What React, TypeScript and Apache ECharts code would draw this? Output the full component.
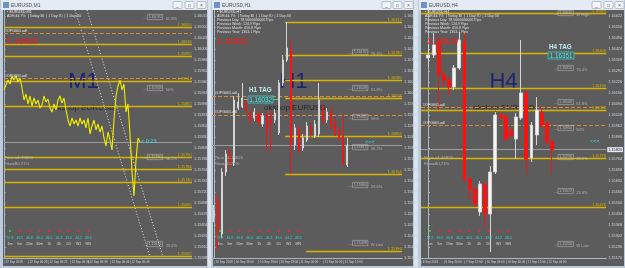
import React, { useEffect, useRef } from "react";
import * as echarts from "echarts";

const FONT = '"Liberation Sans", Arial, sans-serif';

// ---------------- DATA ----------------
// M1 close prices, one point per bar
const m1Close = [
  1.15924, 1.15934, 1.15944, 1.15936, 1.15952, 1.15944, 1.15952, 1.1594, 1.15948, 1.15928,
  1.15904, 1.15916, 1.15896, 1.15912, 1.15892, 1.15908, 1.15896, 1.15904, 1.15888, 1.15894,
  1.15912, 1.159, 1.15906, 1.15888, 1.1588, 1.15896, 1.15884, 1.15904, 1.15912, 1.15898,
  1.15908, 1.15884, 1.15864, 1.15852, 1.15868, 1.15856, 1.15864, 1.15852, 1.15868, 1.15856,
  1.15864, 1.15848, 1.15868, 1.15836, 1.15852, 1.15864, 1.15844, 1.15856, 1.1584, 1.15852,
  1.15828, 1.15812, 1.1584, 1.15824, 1.15804, 1.15864, 1.15912, 1.15932, 1.15944, 1.15924,
  1.15936, 1.1588, 1.15896, 1.15836, 1.1576, 1.15712, 1.15784, 1.15828, 1.1582,
];
const m1TickPos = [0, 12, 22, 33, 42, 53, 63];
const m1TimeLabels = ["12 Sep 2018", "12 Sep 06:23", "12 Sep 06:27", "12 Sep 06:34", "12 Sep 06:39", "12 Sep 06:44", "12 Sep 06:48"];
const m1Levels = [1.1605, 1.16016, 1.15992, 1.15942, 1.15892, 1.1579, 1.15766, 1.1574, 1.1569, 1.15592];
const m1Pivots = [1.16038, 1.15948];
const m1Current = 1.1582;
const m1Channels = [
  [[35.5, 1.16084], [73, 1.1559]],
  [[41.5, 1.16084], [79.5, 1.1559]],
];
const m1FiboX = 69.5;
const m1Fibo: [number, string][] = [[1.1607, "61.8%"], [1.15928, "50%"], [1.1579, "38.2%"], [1.15616, "23.6%"]];

// H1 candles [open, close, low, high]
const h1Ohlc = [
  [1.15532, 1.15556, 1.15512, 1.1558],
  [1.15596, 1.15476, 1.154, 1.1562],
  [1.15464, 1.15712, 1.15448, 1.15728],
  [1.15712, 1.15784, 1.15696, 1.158],
  [1.15784, 1.15744, 1.15728, 1.15808],
  [1.15752, 1.16, 1.15736, 1.16016],
  [1.15968, 1.15992, 1.1596, 1.16028],
  [1.15972, 1.16008, 1.15968, 1.16068],
  [1.16, 1.1596, 1.15948, 1.16012],
  [1.15948, 1.1592, 1.15904, 1.1596],
  [1.15928, 1.15952, 1.15916, 1.15968],
  [1.15944, 1.15912, 1.15896, 1.15956],
  [1.15904, 1.15936, 1.15892, 1.15948],
  [1.1594, 1.1588, 1.158, 1.15952],
  [1.15928, 1.15904, 1.15796, 1.1596],
  [1.1592, 1.15948, 1.15908, 1.15964],
  [1.15868, 1.16068, 1.1586, 1.1608],
  [1.16068, 1.1616, 1.16056, 1.1618],
  [1.1616, 1.16208, 1.16152, 1.16312],
  [1.162, 1.1582, 1.15704, 1.1624],
  [1.1582, 1.15888, 1.158, 1.15904],
  [1.1588, 1.158, 1.15792, 1.15896],
  [1.15808, 1.15848, 1.15796, 1.15864],
  [1.1584, 1.15896, 1.15832, 1.15912],
  [1.15896, 1.15864, 1.15852, 1.15908],
  [1.15856, 1.15904, 1.15848, 1.1592],
  [1.15864, 1.16, 1.15852, 1.16068],
  [1.1596, 1.1592, 1.15904, 1.15984],
  [1.1592, 1.15952, 1.15908, 1.15968],
  [1.15948, 1.15896, 1.1588, 1.15968],
  [1.15908, 1.15864, 1.15856, 1.15928],
  [1.1588, 1.15848, 1.15836, 1.15892],
  [1.15856, 1.15744, 1.15736, 1.1594],
  [1.1574, 1.1582, 1.15732, 1.15848],
];
const h1TickPos = [0, 5, 11, 16, 21, 27, 32];
const h1TimeLabels = ["10 Sep 2018", "10 Sep 13:00", "10 Sep 18:00", "10 Sep 23:00", "11 Sep 04:00", "11 Sep 10:00", "11 Sep 15:00"];
const h1Levels: [number, number][] = [[17.6, 1.16312], [17.6, 1.1618], [17.6, 1.1608], [17.6, 1.16008], [17.6, 1.15856], [17.6, 1.15704], [22.8, 1.15396]];
const h1Pivots = [1.16016, 1.1594];
const h1Current = 1.1582;
const h1FiboX = 33.2;
const h1Fibo: [number, string][] = [[1.16192, "76.4%"], [1.16048, "61.8%"], [1.15932, "50%"], [1.15812, "38.2%"], [1.1566, "23.6%"], [1.15428, "W Low"]];
const h1Tag = "1.16032";

// H4 candles [open, close, low, high]
const h4Ohlc = [
  [1.1637, 1.16388, 1.16316, 1.1646],
  [1.16388, 1.16448, 1.1637, 1.1652],
  [1.1646, 1.16268, 1.16058, 1.16496],
  [1.16268, 1.16238, 1.16202, 1.16286],
  [1.16238, 1.16196, 1.16148, 1.1625],
  [1.16196, 1.1631, 1.16178, 1.16328],
  [1.1631, 1.16478, 1.16298, 1.16526],
  [1.16466, 1.15644, 1.15626, 1.16526],
  [1.15644, 1.15584, 1.15524, 1.15656],
  [1.15584, 1.15494, 1.15476, 1.15602],
  [1.15446, 1.15614, 1.15422, 1.15632],
  [1.15614, 1.15434, 1.15356, 1.15626],
  [1.15434, 1.15686, 1.15206, 1.15722],
  [1.15686, 1.16028, 1.15674, 1.16046],
  [1.16028, 1.1601, 1.15992, 1.16046],
  [1.16016, 1.15884, 1.15872, 1.16034],
  [1.15938, 1.15902, 1.1589, 1.1595],
  [1.15884, 1.16016, 1.15764, 1.1604],
  [1.1601, 1.1616, 1.15998, 1.16478],
  [1.1616, 1.15764, 1.15674, 1.16178],
  [1.1577, 1.15968, 1.15746, 1.15986],
  [1.15908, 1.16058, 1.15848, 1.16136],
  [1.1604, 1.15968, 1.1595, 1.1607],
  [1.1598, 1.15866, 1.15848, 1.15998],
  [1.15866, 1.1582, 1.15674, 1.15884],
];
const h4TickPos = [-1.4, 3, 7, 11, 15, 19, 23];
const h4TimeLabels = ["6 Sep 2018", "6 Sep 20:00", "7 Sep 12:00", "10 Sep 04:00", "10 Sep 20:00", "11 Sep 12:00", "12 Sep 04:00"];
const h4Levels = [1.1664, 1.164, 1.1619, 1.16058, 1.1577, 1.15476];
const h4Pivots = [1.16076, 1.15968];
const h4Current = 1.1582;
const h4FiboX = 24.3;
const h4Fibo: [number, string][] = [[1.1664, "W High"], [1.1631, "76.4%"], [1.16106, "61.8%"], [1.1595, "50%"], [1.15776, "38.2%"], [1.15572, "23.6%"], [1.15254, "W Low"]];
const h4Tag = "1.16351";

const tfNames = ["1m", "5m", "15m", "30m", "1h", "4h", "D1", "W1", "MN"];
const tfValues = ["57.8", "46.9", "46.8", "46.0", "46.5", "46.3", "49.0", "44.2", "48.5"];
const tfUp = [true, false, false, false, false, false, false, false, false];

const headerLines = [
  "ADR:44.7%  | Today:36  | 1 Day:70  | 1 Day:34",
  "Previous Day: 78.5000000000 Pips",
  "Previous Week: 124.9 Pips",
  "Previous Month: 410.8 Pips",
  "Previous Year: 1353.1 Pips",
];

// ---------------- STYLE HELPERS ----------------
const GOLD = "#d8b400";
const AXIS = "#a9b8c8";
const LBL = "#cfd6dd";

const goldLabel = (v: number) => ({
  show: true,
  position: "insideEndTop",
  formatter: v.toFixed(5),
  color: GOLD,
  fontSize: 3.8,
  distance: 0.5,
  fontFamily: FONT,
});
const goldFull = (v: number) => ({
  yAxis: v,
  lineStyle: { color: GOLD, width: 1.4, type: "solid" },
  label: goldLabel(v),
});
const goldPart = (xs: number, v: number, xe: number) => [
  { coord: [xs, v], lineStyle: { color: GOLD, width: 1.4, type: "solid" }, label: goldLabel(v) },
  { coord: [xe, v] },
];
const pivot = (v: number) => ({
  yAxis: v,
  lineStyle: { color: "#d98c2e", width: 1, type: [4, 2] },
  label: { show: false },
});
const current = (v: number, showLabel: boolean) => ({
  yAxis: v,
  lineStyle: { color: "#9c9c9c", width: 1, type: "solid" },
  label: { show: showLabel, position: "end", formatter: v.toFixed(5), color: "#111", backgroundColor: "#e6edf7", fontSize: 3.8, padding: [0.5, 1], distance: 1, fontFamily: FONT },
});
const markLineOf = (data: any[]) => ({
  silent: true,
  symbol: ["none", "none"],
  animation: false,
  precision: 5,
  data,
});

const fibSeries = (idx: number, x: number, fib: [number, string][]) => ({
  type: "scatter",
  xAxisIndex: idx,
  yAxisIndex: idx,
  symbol: "rect",
  symbolSize: 0.5,
  itemStyle: { color: "rgba(0,0,0,0)" },
  z: 6,
  data: fib.map(([p, t]) => ({ value: [x, p], name: t })),
  label: {
    show: true,
    position: "right",
    distance: 0,
    formatter: (p: any) => `{d|—}{b|${p.value[1].toFixed(5)}}{t|${p.name}}`,
    rich: {
      d: { color: "#bdbdbd", fontSize: 4, fontFamily: FONT },
      b: { color: "#cfcfcf", fontSize: 3.6, fontFamily: FONT, borderColor: "#c4c4c4", borderWidth: 0.6, padding: [0.6, 1.2] },
      t: { color: "#c4c4c4", fontSize: 4, fontFamily: FONT, padding: [2, 0, 0, 3] },
    },
  },
});

const xAxisOf = (idx: number, min: number, max: number, ticks: number[], labels: string[]) => ({
  gridIndex: idx,
  type: "value",
  min,
  max,
  axisLine: { show: true, lineStyle: { color: AXIS, width: 1 } },
  axisTick: { show: false },
  splitLine: { show: false },
  axisLabel: {
    customValues: ticks,
    formatter: (v: number) => {
      const k = ticks.findIndex((t) => Math.abs(t - v) < 1e-6);
      return k >= 0 ? "| " + labels[k] : "";
    },
    fontSize: 3,
    color: LBL,
    align: "left",
    margin: 2.5,
    fontFamily: FONT,
  },
});
const yAxisOf = (idx: number, min: number, max: number, interval: number, hideNear: number | null) => ({
  gridIndex: idx,
  type: "value",
  position: "right",
  min,
  max,
  interval,
  axisLine: { show: true, lineStyle: { color: AXIS, width: 1 } },
  axisTick: { show: true, length: 1.5, lineStyle: { color: AXIS } },
  splitLine: { show: false },
  axisLabel: {
    fontSize: 3.8,
    color: LBL,
    margin: 2,
    fontFamily: FONT,
    showMaxLabel: false,
    formatter: (v: number) => (hideNear !== null && Math.abs(v - hideNear) < interval * 0.45 ? "" : v.toFixed(5)),
  },
});

function T(x: number, y: number, text: string, size: number, fill: string, o: any = {}) {
  const align = o.align || "left";
  return {
    type: "text",
    x,
    y,
    z: o.z ?? 60,
    silent: true,
    style: {
      text,
      fill,
      fontSize: size,
      fontFamily: FONT,
      fontWeight: o.weight || "normal",
      textAlign: align,
      align,
      textVerticalAlign: "middle",
      verticalAlign: "middle",
    },
  };
}

const panels = [
  { x0: 0, x1: 208, ix: 3, title: "EURUSD,M1", tf: "M1", btn: [173, 185, 197], bigX: 83.5, wmX: 84, hdr: 1, red: 7, tfX: 10, adl: [31, 76], info: 4 },
  { x0: 211, x1: 414, ix: 213, title: "EURUSD,H1", tf: "H1", btn: [382, 393, 404], bigX: 293.5, wmX: 295, hdr: 5, red: 217, tfX: 220, adl: [93, 112], info: 214 },
  { x0: 418, x1: 625, ix: 421, title: "EURUSD,H4", tf: "H4", btn: [592, 604, 615], bigX: 503.5, wmX: 504, hdr: 5, red: 427, tfX: 430, adl: [105, 123], info: 424 },
];

function buildGraphics() {
  const els: any[] = [];
  els.push({ type: "rect", z: -20, silent: true, shape: { x: 0, y: 0, width: 625, height: 268 }, style: { fill: "#d9e4ef" } });
  panels.forEach((p) => {
    els.push({ type: "rect", z: -15, silent: true, shape: { x: p.x0, y: 0, width: p.x1 - p.x0, height: 268 }, style: { fill: "#bccbdc" } });
    els.push({ type: "rect", z: -14, silent: true, shape: { x: p.ix, y: 10, width: p.x1 - p.ix - 1, height: 256 }, style: { fill: "#5c5c5c" } });
    // title bar (above plot)
    els.push({ type: "rect", z: 70, silent: true, shape: { x: p.x0 + 1, y: 0, width: p.x1 - p.x0 - 2, height: 10 }, style: { fill: "#e4ebf4" } });
    els.push({ type: "rect", z: 71, silent: true, shape: { x: p.x0 + 3, y: 2, width: 6, height: 6 }, style: { fill: "#6f93c4" } });
    els.push({ ...T(p.x0 + 11, 5, p.title, 5, "#4a4a4a"), z: 72 });
    p.btn.forEach((bx, k) => {
      els.push({ type: "rect", z: 71, silent: true, shape: { x: bx, y: 1.5, width: 9, height: 7, r: 1 }, style: { fill: "#f2f5f9", stroke: "#8da0b6", lineWidth: 0.6 } });
      els.push({ ...T(bx + 4.5, 5, ["_", "□", "×"][k], 5, "#556", { align: "center" }), z: 72 });
    });
    // header texts
    els.push(T(p.ix + 4, 11.5, "▪ " + p.title, 3.8, "#e8e8e8"));
    for (let k = 0; k < p.hdr; k++) els.push(T(p.ix + 4, 15.5 + k * 4.2, headerLines[k], 3.6, "#e0e0e0"));
    // red price
    els.push(T(p.red, 41, "1.15820", 8.6, "#ff1a1a"));
    // timeframe big label + watermark (under series)
    els.push(T(p.bigX, 80, p.tf, 22, "#1c2470", { align: "center", z: 1 }));
    els.push(T(p.wmX, 107, "okshop EURUSD", 8, "#272727", { align: "center", z: 1 }));
    // pivot labels
    p.adl.forEach((y) => els.push(T(p.ix + 2, y, "#OPG001.adl", 3.6, "#e8e8e8")));
    // price / fibo info
    els.push(T(p.info, 157, "Price =1.15820", 4.3, "#b4b4b4"));
    els.push(T(p.info, 163, "Fibo=80.71%", 4.3, "#b4b4b4"));
    // multi-timeframe row
    tfNames.forEach((n, k) => {
      const cx = p.tfX + k * 9.8;
      els.push({ type: "circle", z: 60, silent: true, shape: { cx, cy: 231, r: 1.1 }, style: { fill: tfUp[k] ? "#22dd22" : "#ff2020" } });
      els.push(T(cx, 237.5, tfValues[k], 3.4, "#35d6c8", { align: "center" }));
      els.push(T(cx, 244, n, 3.6, "#d8d8d8", { align: "center" }));
    });
  });
  // timers / arrows
  els.push(T(141, 141, "< 0:23", 5.5, "#3fe0e8"));
  els.push(T(365, 141.5, "<<<", 5.5, "#3fe0e8"));
  els.push(T(590, 141, "<<<", 5.5, "#3fe0e8"));
  // H1 TAG
  els.push({ type: "line", z: 60, silent: true, shape: { x1: 244, y1: 99.5, x2: 278, y2: 99.5 }, style: { stroke: "#2ed0d0", lineWidth: 1 } });
  els.push({ type: "rect", z: 61, silent: true, shape: { x: 248, y: 96, width: 25, height: 7 }, style: { fill: "#5c5c5c", stroke: "#2ed0d0", lineWidth: 0.8 } });
  els.push(T(260.5, 99.6, h1Tag, 6.3, "#4aeeee", { align: "center", z: 62 }));
  els.push(T(249, 89, "H1 TAG", 6.3, "#c0eff2", { weight: "bold" }));
  // H4 TAG
  els.push({ type: "rect", z: 61, silent: true, shape: { x: 548, y: 52, width: 26, height: 7 }, style: { fill: "#5c5c5c", stroke: "#2ed0d0", lineWidth: 0.8 } });
  els.push(T(561, 55.6, h4Tag, 6.3, "#4aeeee", { align: "center", z: 62 }));
  els.push(T(549, 46, "H4 TAG", 6.3, "#c0eff2", { weight: "bold" }));
  return els;
}

function buildOption() {
  const candleStyle = { color: "#f4f4f4", color0: "#ff1010", borderColor: "#d4d4d4", borderColor0: "#ff1010", borderWidth: 1 };
  return {
    animation: false,
    grid: [
      { left: 4, top: 8, width: 188, height: 250 },
      { left: 212, top: 8, width: 190, height: 250 },
      { left: 421, top: 8, width: 191, height: 250 },
    ],
    xAxis: [
      xAxisOf(0, 0, 94, m1TickPos, m1TimeLabels),
      xAxisOf(1, -0.5, 46.5, h1TickPos, h1TimeLabels),
      xAxisOf(2, -1.44, 34.5, h4TickPos, h4TimeLabels),
    ],
    yAxis: [
      yAxisOf(0, 1.15588, 1.16088, 0.00022, null),
      yAxisOf(1, 1.15368, 1.16368, 0.00044, null),
      yAxisOf(2, 1.1517, 1.1667, 0.00066, h4Current),
    ],
    graphic: { elements: buildGraphics() },
    series: [
      {
        type: "line",
        xAxisIndex: 0,
        yAxisIndex: 0,
        data: m1Close.map((v, i) => [i, v]),
        symbol: "none",
        z: 5,
        lineStyle: { color: "#f2ee00", width: 1.1 },
        markLine: markLineOf([...m1Levels.map(goldFull), ...m1Pivots.map(pivot), current(m1Current, false)]),
      },
      ...m1Channels.map((seg) => ({
        type: "line",
        xAxisIndex: 0,
        yAxisIndex: 0,
        data: seg,
        symbol: "none",
        z: 4,
        lineStyle: { color: "#e8e8e8", width: 1, type: [1, 2] },
      })),
      fibSeries(0, m1FiboX, m1Fibo),
      {
        type: "candlestick",
        xAxisIndex: 1,
        yAxisIndex: 1,
        data: h1Ohlc.map((d, i) => [i, ...d]),
        encode: { x: 0, y: [1, 2, 3, 4] },
        barWidth: 1.6,
        z: 5,
        itemStyle: candleStyle,
        markLine: markLineOf([...h1Levels.map(([xs, v]) => goldPart(xs, v, 46.5)), ...h1Pivots.map(pivot), current(h1Current, false)]),
      },
      fibSeries(1, h1FiboX, h1Fibo),
      {
        type: "candlestick",
        xAxisIndex: 2,
        yAxisIndex: 2,
        data: h4Ohlc.map((d, i) => [i, ...d]),
        encode: { x: 0, y: [1, 2, 3, 4] },
        barWidth: 3.4,
        z: 5,
        itemStyle: candleStyle,
        markLine: markLineOf([...h4Levels.map(goldFull), ...h4Pivots.map(pivot), current(h4Current, true)]),
      },
      fibSeries(2, h4FiboX, h4Fibo),
    ],
  };
}

export default function App() {
  const ref = useRef<HTMLDivElement>(null);
  useEffect(() => {
    if (!ref.current) return;
    const chart = echarts.init(ref.current, null, { renderer: "svg" });
    chart.setOption(buildOption() as any);
    return () => chart.dispose();
  }, []);
  return <div ref={ref} style={{ position: "fixed", left: 0, top: 0, width: 625, height: 268 }} />;
}
